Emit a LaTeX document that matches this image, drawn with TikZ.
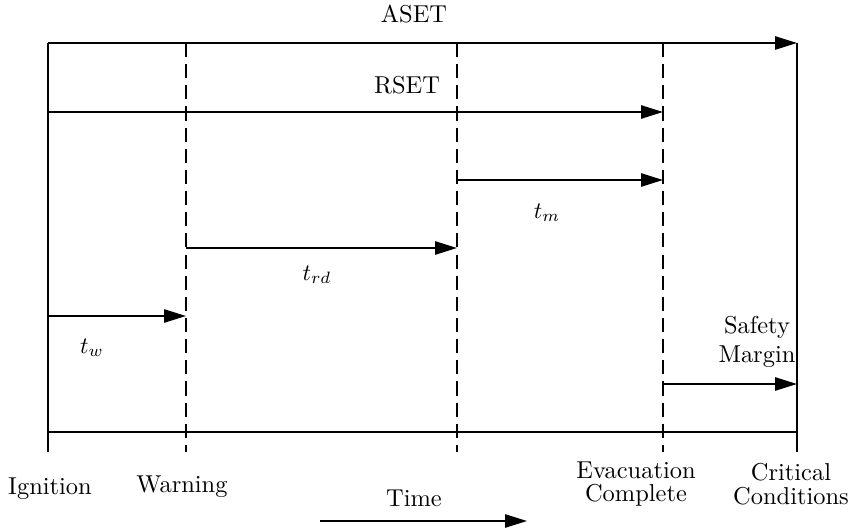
\documentclass[tikz,border=0pt]{standalone}
\usetikzlibrary{arrows.meta}
\begin{document}
\begin{tikzpicture}[x=0.4255pt,y=-0.4255pt,
  axis/.style={line width=0.8pt},
  guide/.style={line width=0.8pt,dash pattern=on 6pt off 3pt},
  period/.style={line width=0.8pt,-{Triangle[length=9.3pt,width=5.6pt]}},
  lbl/.style={inner sep=0pt,align=center,font=\fontsize{10.4}{12}\selectfont},
  lblt/.style={lbl,font=\fontsize{10.4}{10}\selectfont}]
\useasboundingbox (0,0) rectangle (856,529);
% key coordinates
\coordinate (ig0) at (48,43);   \coordinate (ig1) at (48,452);
\coordinate (wa0) at (186,43);  \coordinate (wa1) at (186,452);
\coordinate (rd0) at (457,43);  \coordinate (rd1) at (457,452);
\coordinate (ev0) at (663,43);  \coordinate (ev1) at (663,452);
\coordinate (cr0) at (797,43);  \coordinate (cr1) at (797,452);
\coordinate (bl0) at (48,432);  \coordinate (bl1) at (797,432);
\coordinate (rs0) at (48,112);  \coordinate (rs1) at (663,112);
\coordinate (tm0) at (457,180); \coordinate (tm1) at (663,180);
\coordinate (tr0) at (186,248); \coordinate (tr1) at (457,248);
\coordinate (tw0) at (48,316);  \coordinate (tw1) at (186,316);
\coordinate (sm0) at (663,384); \coordinate (sm1) at (797,384);
\coordinate (ti0) at (320,521); \coordinate (ti1) at (527,521);
% frame
\draw[axis] (ig0) -- (ig1);
\draw[axis] (cr0) -- (cr1);
\draw[axis] (bl0) -- (bl1);
\draw[guide] (wa0) -- (wa1);
\draw[guide] (rd0) -- (rd1);
\draw[guide] (ev0) -- (ev1);
% periods
\draw[period] (ig0) -- (cr0);
\draw[period] (rs0) -- (rs1);
\draw[period] (tm0) -- (tm1);
\draw[period] (tr0) -- (tr1);
\draw[period] (tw0) -- (tw1);
\draw[period] (sm0) -- (sm1);
\draw[period] (ti0) -- (ti1);
% labels
\node[lbl] (aset) at (414,14) {ASET};
\node[lbl] (rset) at (407,85) {RSET};
\node[lbl] (tm) at (547,213) {$t_m$};
\node[lbl] (trd) at (317,275) {$t_{rd}$};
\node[lbl] (tw) at (92,348) {$t_w$};
\node[lbl] (safety) at (757,342) {Safety\\Margin};
\node[lbl] (ignition) at (50,489) {Ignition};
\node[lbl] (warning) at (182,487) {Warning};
\node[lblt] (evac) at (636,484) {Evacuation\\Complete};
\node[lblt] (crit) at (791,484) {Critical\\Conditions};
\node[lbl] (time) at (414,498) {Time};
\end{tikzpicture}
\end{document}
